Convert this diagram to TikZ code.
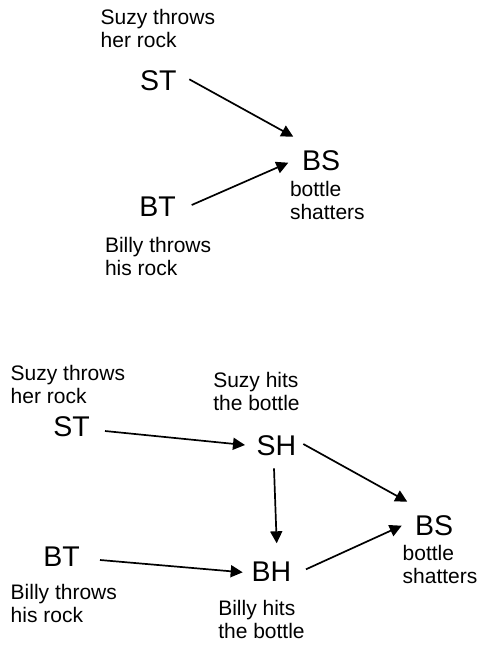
\documentclass[tikz,border=0pt]{standalone}
\usepackage{fontspec}
\setmainfont{Liberation Sans}
\usetikzlibrary{arrows.meta}

\tikzset{
  var/.style={anchor=base west, inner sep=0pt, outer sep=0pt,
    font=\fontsize{28.5}{34}\selectfont},
  % two-line notes: the base anchor sits on the baseline of the last line
  note/.style={anchor=base west, inner sep=0pt, outer sep=0pt, align=left,
    font=\fontsize{21}{23.3}\selectfont},
  arr/.style={line width=1.7pt, -{Triangle[length=12pt,width=12pt]}}
}

\begin{document}
\begin{tikzpicture}[x=1pt,y=-1pt]
\useasboundingbox (0,0) rectangle (479,646);

% ---- simple model: two throws, one shattering ----
\node[note] (st1n) at (100.7,47.3) {Suzy throws\\her rock};
\node[var]  (ST1)  at (140,90.7) {ST};
\node[var]  (BS1)  at (302,170) {BS};
\node[note] (bs1n) at (290,219.8) {bottle\\shatters};
\node[var]  (BT1)  at (139.3,216.7) {BT};
\node[note] (bt1n) at (105,275.3) {Billy throws\\his rock};

\draw[arr] ([shift={(49.3,-11.4)}]ST1.base west) -- ([shift={(-8.7,-33.3)}]BS1.base west);
\draw[arr] ([shift={(52.4,-11.7)}]BT1.base west) -- ([shift={(-13.7,-7.3)}]BS1.base west);

% ---- refined model: hits as intermediate events ----
\node[note] (st2n) at (10.7,403.3) {Suzy throws\\her rock};
\node[var]  (ST2)  at (53.3,436) {ST};
\node[note] (shn)  at (213.3,410.6) {Suzy hits\\the bottle};
\node[var]  (SH)   at (256.7,455) {SH};
\node[var]  (BS2)  at (415,535) {BS};
\node[note] (bs2n) at (402.7,583.3) {bottle\\shatters};
\node[var]  (BT2)  at (43.3,566.7) {BT};
\node[var]  (BH)   at (251.7,581.7) {BH};
\node[note] (bt2n) at (10.7,622.6) {Billy throws\\his rock};
\node[note] (bhn)  at (218.3,638.3) {Billy hits\\the bottle};

\draw[arr] ([shift={(51.7,-5)}]ST2.base west) -- ([shift={(-11.7,-10)}]SH.base west);
\draw[arr] ([shift={(46.6,-11)}]SH.base west) -- ([shift={(-7.7,-33.3)}]BS2.base west);
\draw[arr] ([shift={(17.3,13.3)}]SH.base west) -- ([shift={(25,-38.4)}]BH.base west);
\draw[arr] ([shift={(56.7,-6.7)}]BT2.base west) -- ([shift={(-9,-9.4)}]BH.base west);
\draw[arr] ([shift={(54.3,-12.4)}]BH.base west) -- ([shift={(-13.3,-9.3)}]BS2.base west);
\end{tikzpicture}
\end{document}
